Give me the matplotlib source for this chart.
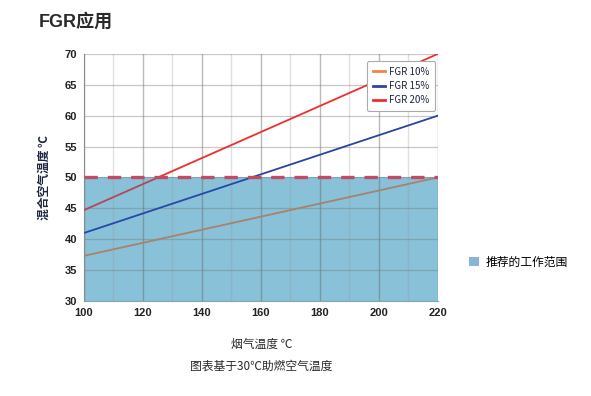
import matplotlib
matplotlib.use('Agg')
import matplotlib.pyplot as plt
from matplotlib.patches import Rectangle, Patch
from matplotlib.lines import Line2D

plt.rcParams['font.family'] = ['Noto Sans CJK SC', 'DejaVu Sans']
latin = ['Liberation Sans', 'Noto Sans CJK SC']

# data
flue_temp = [100, 220]
series_names = ['FGR 10%', 'FGR 15%', 'FGR 20%']
mix_temp = {
    'FGR 10%': [37.3, 50.0],
    'FGR 15%': [41.0, 60.0],
    'FGR 20%': [44.7, 70.0],
}
limit_temp = 50
x_ticks = [100, 120, 140, 160, 180, 200, 220]
y_ticks = [30, 35, 40, 45, 50, 55, 60, 65, 70]

colors = {'FGR 10%': '#EE8446', 'FGR 15%': '#2C44A0', 'FGR 20%': '#EE2E2E'}
colors_low = {'FGR 10%': '#A8826E', 'FGR 15%': '#2848A8', 'FGR 20%': '#B8445A'}
shade = '#88C1D8'

fig = plt.figure(figsize=(5.91, 3.96), dpi=100)
ax = fig.add_axes([0.142, 0.240, 0.599, 0.624])

xmin, xmax = x_ticks[0], x_ticks[-1]
ymin, ymax = y_ticks[0], y_ticks[-1]

# recommended working range
ax.fill_between([xmin, xmax], ymin, limit_temp, color=shade, zorder=1, lw=0)
ax.plot([xmin, xmax], [limit_temp, limit_temp], color='#C24A66', lw=2.4,
        dashes=(4, 3), zorder=4, solid_capstyle='butt')

for name in series_names:
    hi, = ax.plot(flue_temp, mix_temp[name], color=colors[name], lw=1.3, zorder=3)
    hi.set_clip_path(Rectangle((xmin, limit_temp), xmax - xmin, ymax - limit_temp,
                               transform=ax.transData))
    lo, = ax.plot(flue_temp, mix_temp[name], color=colors_low[name], lw=1.3, zorder=3)
    lo.set_clip_path(Rectangle((xmin, ymin), xmax - xmin, limit_temp - ymin,
                               transform=ax.transData))

ax.set_xlim(xmin, xmax)
ax.set_ylim(ymin, ymax)
ax.set_xticks(x_ticks)
ax.set_xticks(range(xmin, xmax + 1, 10), minor=True)
ax.set_yticks(y_ticks)
ax.set_axisbelow('line')
ax.grid(True, which='major', axis='x', color='#666666', alpha=0.45, lw=1.0)
ax.grid(True, which='major', axis='y', color='#777777', alpha=0.4, lw=0.9)
ax.grid(True, which='minor', axis='x', color='#999999', alpha=0.3, lw=1.0)
ax.tick_params(length=0, labelsize=8, colors='#222222', pad=5)
ax.tick_params(which='minor', length=0)
for lab in ax.get_xticklabels() + ax.get_yticklabels():
    lab.set_fontweight('bold')
    lab.set_family(latin)
for s in ['top', 'right']:
    ax.spines[s].set_visible(False)
ax.spines['left'].set_color('#8A8A8A')
ax.spines['bottom'].set_color('#7FA8BC')

ax.set_ylabel('混合空气温度 ℃', fontsize=8.5, color='#1E2540', fontweight='bold', labelpad=10)

handles = [Line2D([], [], color=colors[n], lw=2) for n in series_names]
leg = ax.legend(handles, series_names, loc='upper right', bbox_to_anchor=(1.005, 0.99),
                fontsize=7, handlelength=1.3, handletextpad=0.4, labelspacing=0.45,
                borderpad=0.55, frameon=True, fancybox=True, framealpha=1)
leg.get_frame().set_edgecolor('#AAAAAA')
leg.get_frame().set_linewidth(0.8)
for t in leg.get_texts():
    t.set_color('#1E2540')

fig.legend([Patch(facecolor='#86B6D4', edgecolor='none')], ['推荐的工作范围'],
           loc='center left', bbox_to_anchor=(0.775, 0.338), frameon=False,
           fontsize=8.5, handlelength=0.9, handleheight=0.9, handletextpad=0.5)

fig.text(0.442, 0.131, '烟气温度 ℃', ha='center', va='center', fontsize=8.5, color='#2A2A2A')
fig.text(0.442, 0.076, '图表基于30℃助燃空气温度', ha='center', va='center', fontsize=8.5, color='#2A2A2A')
fig.text(0.066, 0.944, 'FGR应用', ha='left', va='center', fontsize=13, fontweight='bold',
         color='#2A2A2A', family=latin)

fig.savefig('out.png', dpi=100)
